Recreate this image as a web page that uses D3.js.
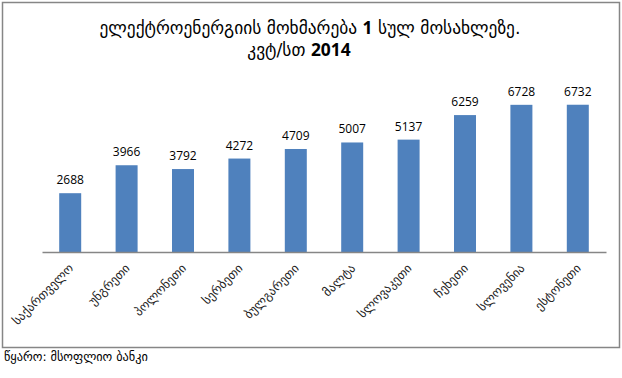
<!DOCTYPE html>
<html>
<head>
<meta charset="utf-8">
<script src="https://cdn.jsdelivr.net/npm/d3@7"></script>
<style>
  body { margin: 0; background: #fff; }
  svg { display: block; }
  .title { font-family: "DejaVu Sans", sans-serif; font-size: 17.4px; fill: #000; }
  .num { font-family: "Open Sans", sans-serif; font-weight: bold; }
  .value { font-family: "Open Sans", sans-serif; font-size: 12px; fill: #000; }
  .cat { font-family: "DejaVu Sans", sans-serif; font-size: 12.3px; fill: #222; }
  .source { font-family: "DejaVu Sans", sans-serif; font-size: 12.3px; fill: #000; }
</style>
</head>
<body>
<svg width="622" height="378"></svg>
<script>
// Data
const countries = ["საქართველო", "უნგრეთი", "პოლონეთი", "სერბეთი", "ბულგარეთი",
                   "მალტა", "სლოვაკეთი", "ჩეხეთი", "სლოვენია", "ესტონეთი"];
const consumption = [2688, 3966, 3792, 4272, 4709, 5007, 5137, 6259, 6728, 6732];

const svg = d3.select("svg");

// chart frame
svg.append("rect")
    .attr("x", 2.5).attr("y", 2.5)
    .attr("width", 617).attr("height", 345)
    .attr("fill", "none")
    .attr("stroke", "#868686")
    .attr("stroke-width", 1.5);

// title
const title = svg.append("text").attr("class", "title").attr("text-anchor", "middle");
title.append("tspan").attr("x", 310).attr("y", 34).text("ელექტროენერგიის მოხმარება ")
    .append("tspan").attr("class", "num").text("1");
title.append("tspan").text(" სულ მოსახლეზე.");
const line2 = svg.append("text").attr("class", "title").attr("text-anchor", "middle")
    .attr("x", 299).attr("y", 56);
line2.append("tspan").text("კვტ/სთ ");
line2.append("tspan").attr("class", "num").text("2014");

// scales
const x = d3.scaleBand()
    .domain(countries)
    .range([42, 606])
    .paddingInner(0.61)
    .paddingOuter(0.305);

const y = d3.scaleLinear()
    .domain([0, 8000])
    .range([252, 77]);

// bars
svg.append("g")
    .selectAll("rect")
    .data(countries)
    .join("rect")
    .attr("x", d => x(d))
    .attr("y", (d, i) => y(consumption[i]))
    .attr("width", x.bandwidth())
    .attr("height", (d, i) => y(0) - y(consumption[i]))
    .attr("fill", "#4F81BD");

// value labels
svg.append("g")
    .selectAll("text")
    .data(countries)
    .join("text")
    .attr("class", "value")
    .attr("text-anchor", "middle")
    .attr("x", d => x(d) + x.bandwidth() / 2)
    .attr("y", (d, i) => y(consumption[i]) - 9)
    .text((d, i) => consumption[i]);

// x axis
const xAxis = svg.append("g")
    .attr("transform", "translate(0,252)")
    .call(d3.axisBottom(x).tickSize(0).tickPadding(0));
xAxis.select(".domain").attr("stroke", "#868686").attr("stroke-width", 1.3);
xAxis.selectAll("text")
    .attr("class", "cat")
    .attr("text-anchor", "end")
    .attr("dy", null)
    .attr("transform", "translate(4,17) rotate(-45)");

// source
svg.append("text")
    .attr("class", "source")
    .attr("x", 4).attr("y", 361)
    .text("წყარო: მსოფლიო  ბანკი");
</script>
</body>
</html>
